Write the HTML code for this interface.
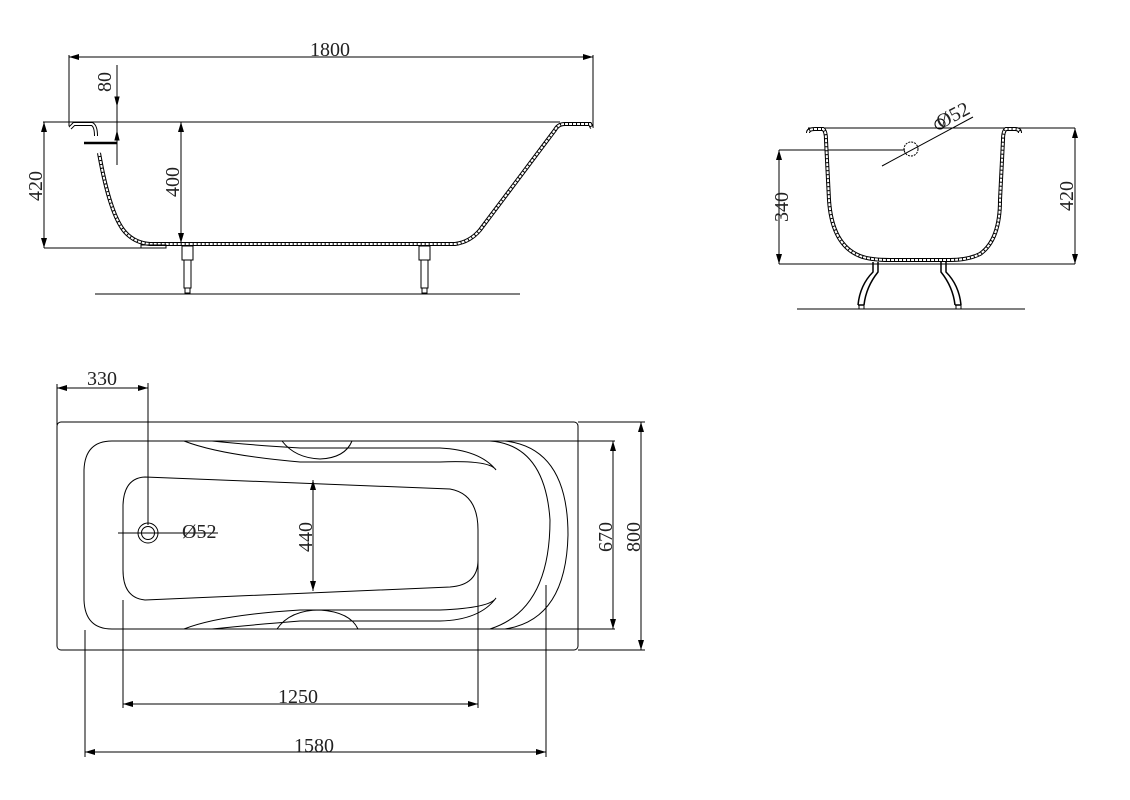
<!DOCTYPE html>
<html><head><meta charset="utf-8"><style>
html,body{margin:0;padding:0;background:#fff;}
svg{display:block;}
text{font-family:"Liberation Serif",serif;font-size:20px;fill:#222;}
</style></head><body>
<svg width="1130" height="800" viewBox="0 0 1130 800" xmlns="http://www.w3.org/2000/svg">
<defs>
<marker id="a" viewBox="0 0 10 6" refX="10" refY="3" markerWidth="10" markerHeight="6" orient="auto-start-reverse" markerUnits="userSpaceOnUse"><path d="M0,0 L10,3 L0,6z" fill="#000"/></marker>
</defs>
<g fill="none" stroke="#000" stroke-width="1">
<!-- SIDE VIEW -->
<line x1="69" y1="57" x2="593" y2="57" marker-start="url(#a)" marker-end="url(#a)"/>
<line x1="69" y1="55" x2="69" y2="126"/>
<line x1="593" y1="55" x2="593" y2="128"/>
<line x1="43" y1="122" x2="560" y2="122"/>
<line x1="44" y1="122" x2="44" y2="248" marker-start="url(#a)" marker-end="url(#a)"/>
<line x1="44" y1="248" x2="150" y2="248"/>
<line x1="181" y1="122" x2="181" y2="243" marker-start="url(#a)" marker-end="url(#a)"/>
<line x1="117" y1="65" x2="117" y2="165"/>
<path d="M117,105 l-2,-8 l4,0z M117,132 l-2,8 l4,0z" fill="#000"/>
<line x1="84" y1="143" x2="117" y2="143" stroke-width="2.5"/>
<path d="M70,128 L74,124 L92,124 Q96,126 96,136" stroke-width="4"/>
<path d="M70,128 L74,124 L92,124 Q96,126 96,136" stroke="#fff" stroke-width="2"/>
<path d="M99,153 Q110,215 125,232 Q135,243 150,244 L455,244 Q470,242 480,230 L555,130 Q558,124 565,124 L590,124 L592,128" stroke-width="4"/>
<path d="M99,153 Q110,215 125,232 Q135,243 150,244 L455,244 Q470,242 480,230 L555,130 Q558,124 565,124 L590,124 L592,128" stroke="#fff" stroke-width="2" stroke-dasharray="3,1"/>
<rect x="141" y="245" width="25" height="3"/>
<rect x="182" y="246" width="11" height="14"/><rect x="184" y="260" width="7" height="28"/><rect x="185" y="288" width="5" height="5"/>
<rect x="419" y="246" width="11" height="14"/><rect x="421" y="260" width="7" height="28"/><rect x="422" y="288" width="5" height="5"/>
<line x1="95" y1="294" x2="520" y2="294"/>
<!-- END VIEW -->
<line x1="808" y1="128" x2="1075" y2="128"/>
<line x1="1075" y1="128" x2="1075" y2="264" marker-start="url(#a)" marker-end="url(#a)"/>
<line x1="779" y1="150" x2="779" y2="264" marker-start="url(#a)" marker-end="url(#a)"/>
<line x1="779" y1="150" x2="905" y2="150"/>
<line x1="779" y1="264" x2="1075" y2="264"/>
<path d="M808,133 Q808,129 815,129 L823,129 Q826,131 826,140 L829,200 Q832,245 860,256 Q870,260 890,260 L950,260 Q968,260 980,254 Q1000,240 1000,200 L1003,140 Q1003,131 1006,129 L1015,129 Q1020,129 1020,133" stroke-width="4"/>
<path d="M808,133 Q808,129 815,129 L823,129 Q826,131 826,140 L829,200 Q832,245 860,256 Q870,260 890,260 L950,260 Q968,260 980,254 Q1000,240 1000,200 L1003,140 Q1003,131 1006,129 L1015,129 Q1020,129 1020,133" stroke="#fff" stroke-width="2" stroke-dasharray="3,1"/>
<path d="M873,262 L873,272 Q860,285 858,305 M878,262 L878,272 Q866,287 864,305 M858,305 L864,305" stroke-width="1.5"/>
<path d="M946,262 L946,272 Q959,285 961,305 M941,262 L941,272 Q953,287 955,305 M955,305 L961,305" stroke-width="1.5"/>
<rect x="859" y="305" width="5" height="4"/><rect x="956" y="305" width="5" height="4"/>
<line x1="797" y1="309" x2="1025" y2="309"/>
<line x1="882" y1="166" x2="973" y2="117"/>
<circle cx="911" cy="149" r="7" stroke-dasharray="2,1"/>
<circle cx="940" cy="124" r="5"/>
<!-- PLAN VIEW -->
<line x1="57" y1="388" x2="148" y2="388" marker-start="url(#a)" marker-end="url(#a)"/>
<line x1="57" y1="384" x2="57" y2="425"/>
<line x1="148" y1="383" x2="148" y2="525"/>
<rect x="57" y="422" width="521" height="228" rx="4"/>
<line x1="578" y1="422" x2="645" y2="422"/>
<line x1="578" y1="650" x2="645" y2="650"/>
<line x1="641" y1="422" x2="641" y2="650" marker-start="url(#a)" marker-end="url(#a)"/>
<path d="M615,441 L112,441 Q85,441 84,470 L84,600 Q85,629 112,629 L615,629"/>
<line x1="613" y1="441" x2="613" y2="629" marker-start="url(#a)" marker-end="url(#a)"/>
<path d="M145,477 L450,489 Q478,494 478,530 L478,560 Q478,585 450,587 L145,600 Q123,598 123,570 L123,505 Q124,478 145,477z"/>
<line x1="313" y1="480" x2="313" y2="591" marker-start="url(#a)" marker-end="url(#a)"/>
<circle cx="148" cy="533" r="10"/><circle cx="148" cy="533" r="6.5"/>
<line x1="118" y1="533" x2="218" y2="533"/>
<path d="M184,441 Q220,455 300,462 L440,462 Q490,460 496,470 Q480,450 440,448 L300,448 Q250,445 212,441"/>
<path d="M282,441 Q295,458 320,459 Q345,458 352,441"/>
<path d="M184,629 Q220,615 300,610 L440,610 Q490,608 496,598 Q480,620 440,621 L300,621 Q250,625 212,629"/>
<path d="M277,629 Q290,610 320,610 Q350,612 358,629"/>
<path d="M490,441 Q545,445 550,520 Q550,610 490,629"/>
<path d="M505,441 Q568,448 568,535 Q566,620 505,629"/>
<line x1="123" y1="600" x2="123" y2="708"/>
<line x1="478" y1="560" x2="478" y2="708"/>
<line x1="123" y1="704" x2="478" y2="704" marker-start="url(#a)" marker-end="url(#a)"/>
<line x1="85" y1="630" x2="85" y2="757"/>
<line x1="546" y1="585" x2="546" y2="757"/>
<line x1="85" y1="752" x2="546" y2="752" marker-start="url(#a)" marker-end="url(#a)"/>
</g>
<text x="330" y="56" text-anchor="middle">1800</text>
<text transform="translate(111,82) rotate(-90)" text-anchor="middle">80</text>
<text transform="translate(42,186) rotate(-90)" text-anchor="middle">420</text>
<text transform="translate(179,182) rotate(-90)" text-anchor="middle">400</text>
<text transform="translate(788,207) rotate(-90)" text-anchor="middle">340</text>
<text transform="translate(1073,196) rotate(-90)" text-anchor="middle">420</text>
<text transform="translate(956,121) rotate(-28)" text-anchor="middle">Ø52</text>
<text x="102" y="385" text-anchor="middle">330</text>
<text x="182" y="538">Ø52</text>
<text transform="translate(312,537) rotate(-90)" text-anchor="middle">440</text>
<text transform="translate(612,537) rotate(-90)" text-anchor="middle">670</text>
<text transform="translate(640,537) rotate(-90)" text-anchor="middle">800</text>
<text x="298" y="703" text-anchor="middle">1250</text>
<text x="314" y="752" text-anchor="middle">1580</text>
</svg>
</body></html>
